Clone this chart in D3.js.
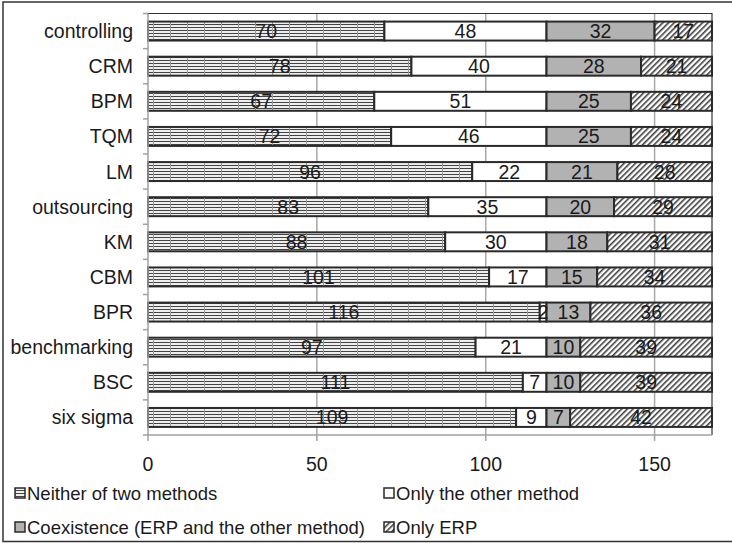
<!DOCTYPE html>
<html>
<head>
<meta charset="utf-8">
<script src="https://cdn.jsdelivr.net/npm/d3@7"></script>
<style>
  body { margin: 0; background: #fff; }
  svg text { font-family: "Liberation Sans", Arial, sans-serif; fill: #1a1a1a; }
</style>
</head>
<body>
<svg id="chart" width="732" height="543"></svg>
<script>
const categories = ["controlling", "CRM", "BPM", "TQM", "LM", "outsourcing", "KM", "CBM", "BPR", "benchmarking", "BSC", "six sigma"];
const neither = [70, 78, 67, 72, 96, 83, 88, 101, 116, 97, 111, 109];
const otherOnly = [48, 40, 51, 46, 22, 35, 30, 17, 2, 21, 7, 9];
const coexist = [32, 28, 25, 25, 21, 20, 18, 15, 13, 10, 10, 7];
const erpOnly = [17, 21, 24, 24, 28, 29, 31, 34, 36, 39, 39, 42];
const seriesNames = ["Neither of two methods", "Only the other method", "Coexistence (ERP and the other method)", "Only ERP"];
const xTicks = [0, 50, 100, 150];

const width = 732,
		height = 543,
		margin = {top: 13.5, right: 20, bottom: 108, left: 148};

const svg = d3.select("#chart");

// patterns
const defs = svg.append("defs");

const pNeither = defs.append("pattern")
	.attr("id", "p-neither")
	.attr("patternUnits", "userSpaceOnUse")
	.attr("width", 17)
	.attr("height", 3);
pNeither.append("rect").attr("width", 17).attr("height", 3).attr("fill", "#eeeeee");
pNeither.append("line")
	.attr("x1", 0).attr("x2", 17).attr("y1", 0.5).attr("y2", 0.5)
	.attr("stroke", "#444").attr("stroke-width", 1);
pNeither.append("line")
	.attr("x1", 0.5).attr("x2", 0.5).attr("y1", 0).attr("y2", 3)
	.attr("stroke", "#999").attr("stroke-width", 1);

const pErp = defs.append("pattern")
	.attr("id", "p-erp")
	.attr("patternUnits", "userSpaceOnUse")
	.attr("width", 4)
	.attr("height", 4)
	.attr("patternTransform", "rotate(45)");
pErp.append("rect").attr("width", 4).attr("height", 4).attr("fill", "#fff");
pErp.append("line")
	.attr("x1", 0.8).attr("x2", 0.8).attr("y1", 0).attr("y2", 4)
	.attr("stroke", "#333").attr("stroke-width", 1.5);

const fills = ["url(#p-neither)", "#fff", "#b2b2b2", "url(#p-erp)"];

// outer frame
svg.append("rect")
	.attr("x", 3).attr("y", 2)
	.attr("width", width + 10).attr("height", height - 3.5)
	.attr("fill", "#fff")
	.attr("stroke", "#333")
	.attr("stroke-width", 1.5);

// scales
const x = d3.scaleLinear()
	.domain([0, 167])
	.range([margin.left, width - margin.right]);

const y = d3.scaleBand()
	.domain(categories)
	.range([margin.top, height - margin.bottom])
	.paddingInner(0.46)
	.paddingOuter(0.23);

const plotBottom = height - margin.bottom;

// gridlines
svg.append("g")
	.selectAll("line")
	.data(xTicks.slice(1))
	.enter()
	.append("line")
		.attr("x1", (d) => x(d))
		.attr("x2", (d) => x(d))
		.attr("y1", margin.top)
		.attr("y2", plotBottom)
		.attr("stroke", "#a8a8a8")
		.attr("stroke-width", 1.5);

// plot area border (top, right)
svg.append("path")
	.attr("d", `M${x(0)},${margin.top}H${x(167)}V${plotBottom}`)
	.attr("fill", "none")
	.attr("stroke", "#333")
	.attr("stroke-width", 1.2);

// stacked bars
const rows = categories.map((c, i) => ({
	cat: c,
	values: [neither[i], otherOnly[i], coexist[i], erpOnly[i]]
}));

const stack = d3.stack()
	.keys([0, 1, 2, 3])
	.value((d, k) => d.values[k]);

const layers = stack(rows);

const barGroup = svg.append("g");

layers.forEach((layer, k) => {
	barGroup.append("g")
		.selectAll("rect")
		.data(layer)
		.enter()
		.append("rect")
			.attr("x", (d) => x(d[0]))
			.attr("y", (d) => y(d.data.cat))
			.attr("width", (d) => x(d[1]) - x(d[0]))
			.attr("height", y.bandwidth())
			.attr("fill", fills[k])
			.attr("stroke", "#2a2a2a")
			.attr("stroke-width", 2);
});

// value labels
layers.forEach((layer) => {
	barGroup.append("g")
		.selectAll("text")
		.data(layer)
		.enter()
		.append("text")
			.attr("x", (d) => x((d[0] + d[1]) / 2))
			.attr("y", (d) => y(d.data.cat) + y.bandwidth() / 2)
			.attr("dy", "0.36em")
			.attr("text-anchor", "middle")
			.style("font-size", "19.5px")
			.text((d) => d[1] - d[0]);
});

// y axis
const yAxis = svg.append("g")
	.attr("transform", `translate(${x(0)},0)`);

yAxis.append("line")
	.attr("x1", 0).attr("x2", 0)
	.attr("y1", margin.top).attr("y2", plotBottom)
	.attr("stroke", "#a0a0a0").attr("stroke-width", 1.5);

const yBounds = categories.map((c) => y(c) - y.step() * y.paddingInner() / 2).concat([plotBottom]);

yAxis.selectAll(".ytick")
	.data(yBounds)
	.enter()
	.append("line")
		.attr("x1", -5).attr("x2", 0)
		.attr("y1", (d) => d).attr("y2", (d) => d)
		.attr("stroke", "#a0a0a0").attr("stroke-width", 1.5);

yAxis.selectAll(".ylabel")
	.data(categories)
	.enter()
	.append("text")
		.attr("x", -15)
		.attr("y", (d) => y(d) + y.bandwidth() / 2)
		.attr("dy", "0.36em")
		.attr("text-anchor", "end")
		.style("font-size", "19.5px")
		.text((d) => d);

// x axis
const xAxis = svg.append("g")
	.attr("transform", `translate(0,${plotBottom})`);

xAxis.append("line")
	.attr("x1", x(0)).attr("x2", x(167))
	.attr("y1", 0).attr("y2", 0)
	.attr("stroke", "#a0a0a0").attr("stroke-width", 1.5);

xAxis.selectAll(".xtick")
	.data(xTicks)
	.enter()
	.append("line")
		.attr("x1", (d) => x(d)).attr("x2", (d) => x(d))
		.attr("y1", 0).attr("y2", 6)
		.attr("stroke", "#a0a0a0").attr("stroke-width", 1.5);

xAxis.selectAll(".xlabel")
	.data(xTicks)
	.enter()
	.append("text")
		.attr("x", (d) => x(d))
		.attr("y", 36)
		.attr("text-anchor", "middle")
		.style("font-size", "19.5px")
		.text((d) => d);

// legend
const legendPos = [[15, 493], [384, 493], [15, 527], [384, 527]];

const legend = svg.append("g")
	.selectAll("g")
	.data(seriesNames)
	.enter()
	.append("g")
		.attr("transform", (d, i) => `translate(${legendPos[i][0]},${legendPos[i][1]})`);

legend.append("rect")
	.attr("x", 0).attr("y", -5)
	.attr("width", 10).attr("height", 10)
	.attr("fill", (d, i) => fills[i])
	.attr("stroke", "#2a2a2a")
	.attr("stroke-width", 1.5);

legend.append("text")
	.attr("x", 12)
	.attr("y", 0)
	.attr("dy", "0.36em")
	.style("font-size", "18.5px")
	.text((d) => d);
</script>
</body>
</html>
